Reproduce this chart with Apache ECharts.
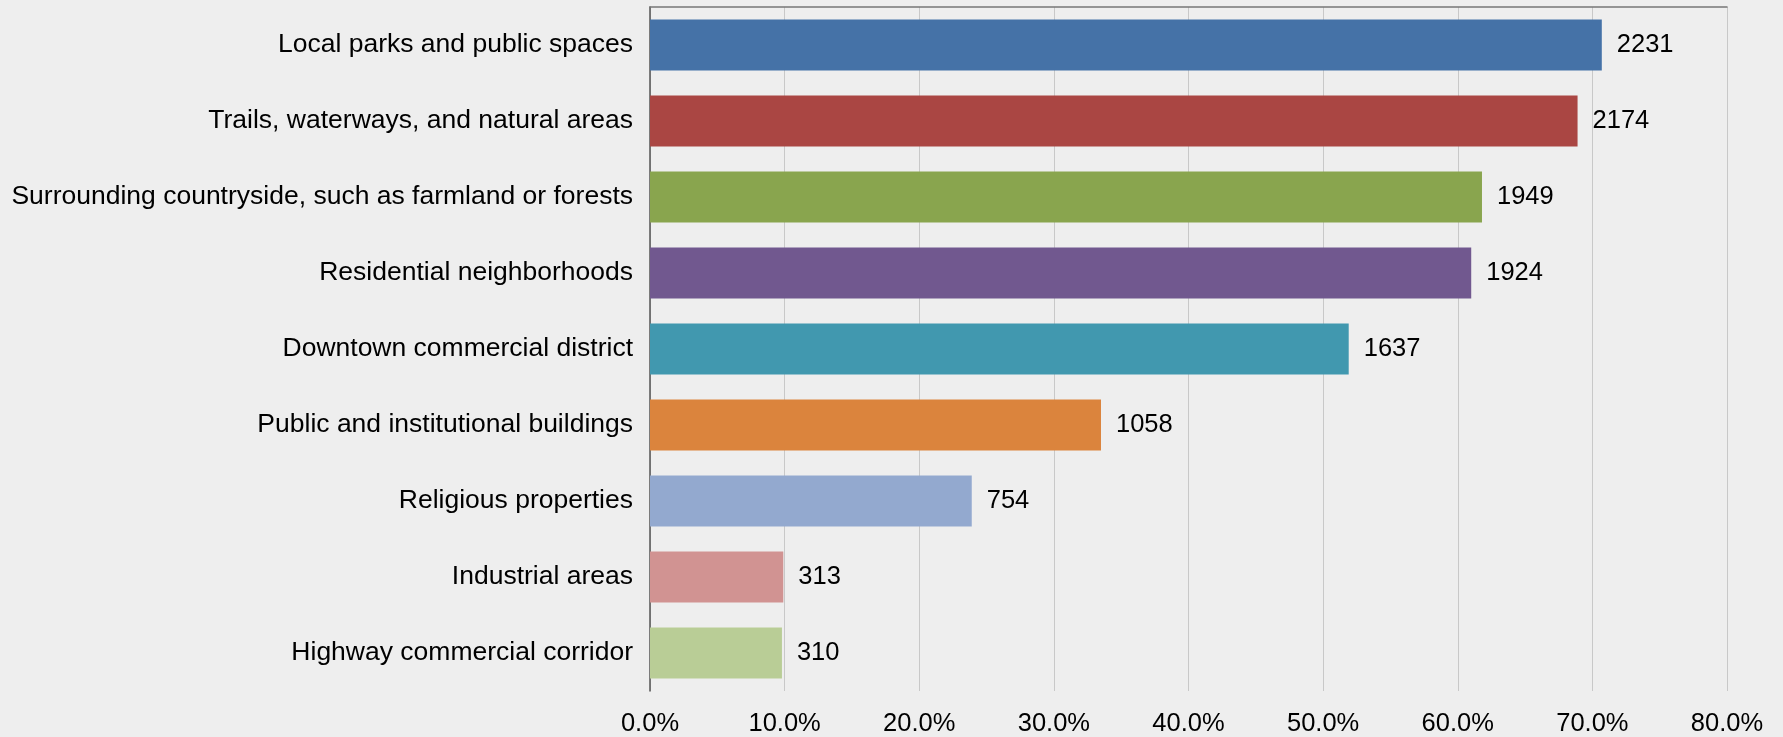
<!DOCTYPE html>
<html><head><meta charset="utf-8">
<script src="https://cdn.jsdelivr.net/npm/echarts@6/dist/echarts.min.js"></script>
<style>html,body{margin:0;padding:0;background:#eeeeee;}#c{width:1783px;height:737px;}</style>
</head><body><div id="c"></div>
<script>
var categories = ["Local parks and public spaces","Trails, waterways, and natural areas","Surrounding countryside, such as farmland or forests","Residential neighborhoods","Downtown commercial district","Public and institutional buildings","Religious properties","Industrial areas","Highway commercial corridor"];
var percents = [70.7, 68.9, 61.8, 61.0, 51.9, 33.5, 23.9, 9.9, 9.8];
var counts = [2231, 2174, 1949, 1924, 1637, 1058, 754, 313, 310];
var colors = ["#4572A7","#AA4643","#89A54E","#71588F","#4198AF","#DB843D","#93A9CF","#D19392","#B9CD96"];
var tickLabels = ["0.0%","10.0%","20.0%","30.0%","40.0%","50.0%","60.0%","70.0%","80.0%"];

var chart = echarts.init(document.getElementById('c'));
var font = 'Liberation Sans';
chart.setOption({
  backgroundColor: '#eeeeee',
  animation: false,
  grid: {left: 650, right: 56, top: 7, bottom: 46, containLabel: false},
  xAxis: [{
    type: 'value', min: 0, max: 80, interval: 10, position: 'bottom',
    axisLine: {show: false}, axisTick: {show: false},
    splitLine: {show: true, lineStyle: {color: '#c8c8c8', width: 1}},
    axisLabel: {formatter: function(v){ return tickLabels[Math.round(v/10)]; }, fontFamily: font, fontSize: 25.5, color: '#000', margin: 20}
  },{
    type: 'value', min: 0, max: 80, position: 'top',
    axisLine: {show: true, onZero: false, lineStyle: {color: '#777', width: 1.5}},
    axisTick: {show: false}, axisLabel: {show: false}, splitLine: {show: false}
  }],
  yAxis: {
    type: 'category', data: categories, inverse: true,
    axisLine: {show: true, lineStyle: {color: '#555', width: 1.5}},
    axisTick: {show: false},
    axisLabel: {fontFamily: font, fontSize: 26.5, color: '#000', margin: 17, padding: [3, 0, 0, 0]}
  },
  series: [{
    type: 'bar', xAxisIndex: 0, barWidth: 51,
    data: percents.map(function(p, i){ return {value: p, itemStyle: {color: colors[i]}}; }),
    label: {show: true, position: 'right', distance: 15, fontFamily: font, fontSize: 25.5, color: '#000', padding: [3, 0, 0, 0],
      formatter: function(p){ return counts[p.dataIndex]; }}
  }]
});
</script></body></html>
